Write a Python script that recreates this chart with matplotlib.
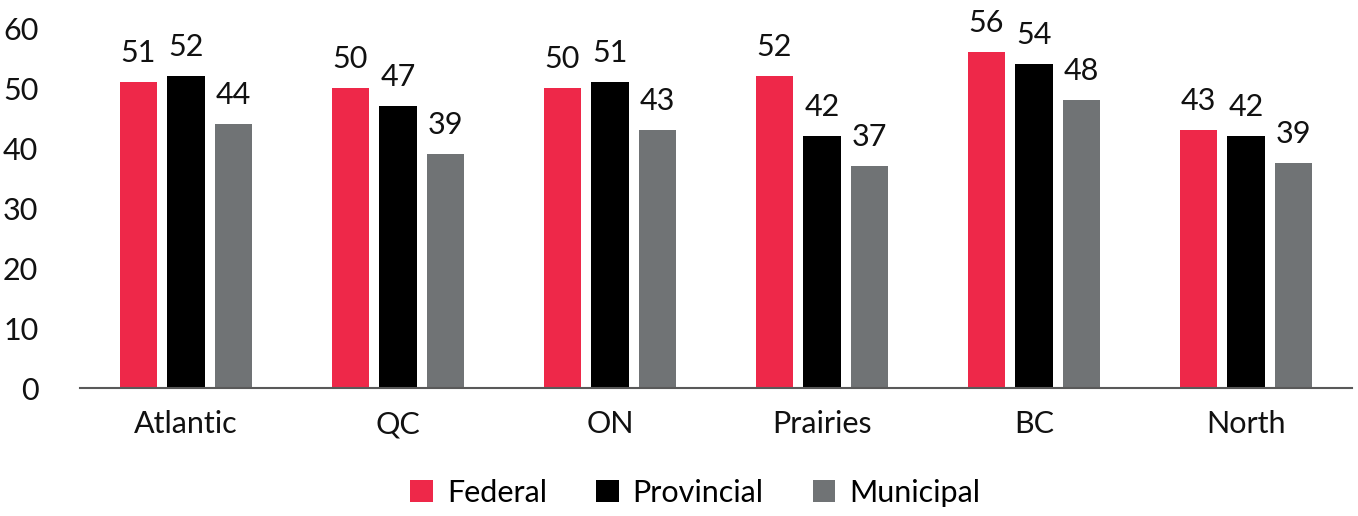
import matplotlib.pyplot as plt
import numpy as np

regions = ['Atlantic', 'QC', 'ON', 'Prairies', 'BC', 'North']
series = ['Federal', 'Provincial', 'Municipal']
federal = [51, 50, 50, 52, 56, 43]
provincial = [52, 47, 51, 42, 54, 42]
municipal = [44, 39, 43, 37, 48, 37.5]
municipal_labels = [44, 39, 43, 37, 48, 39]

colors = ['#EE2849', '#000000', '#707375']

plt.rcParams['font.family'] = ['Lato', 'DejaVu Sans']

fig = plt.figure(figsize=(13.58, 5.16), dpi=100)
ax = fig.add_axes([80 / 1358, 1 - 388 / 516, 1272 / 1358, 360 / 516])

x = np.arange(len(regions))
width = 0.175
step = 0.224
data = [federal, provincial, municipal]
labels = [federal, provincial, municipal_labels]

for i, (vals, labs) in enumerate(zip(data, labels)):
    pos = x + (i - 1) * step
    ax.bar(pos, vals, width, color=colors[i], label=series[i])
    for px, v, lab in zip(pos, vals, labs):
        ax.annotate(str(lab), (px, v), xytext=(0, 11), textcoords='offset points',
                    ha='center', va='bottom', fontsize=22, color='#111111')

ax.set_xlim(-0.5, len(regions) - 0.5)
ax.set_ylim(0, 60)
ax.set_yticks(range(0, 61, 10))
ax.set_xticks(x)
ax.set_xticklabels(regions)
ax.tick_params(axis='both', length=0, labelsize=22, colors='#111111')
ax.tick_params(axis='y', pad=30)
ax.tick_params(axis='x', pad=16)

for s in ['top', 'right', 'left']:
    ax.spines[s].set_visible(False)
ax.spines['bottom'].set_color('#595959')
ax.spines['bottom'].set_linewidth(1.5)

fig.legend(loc='lower center', bbox_to_anchor=(0.512, -0.035), ncol=3, frameon=False,
           fontsize=22, handlelength=0.75, handleheight=0.75, handletextpad=0.45,
           columnspacing=1.6)

fig.savefig('out.png', dpi=100)
